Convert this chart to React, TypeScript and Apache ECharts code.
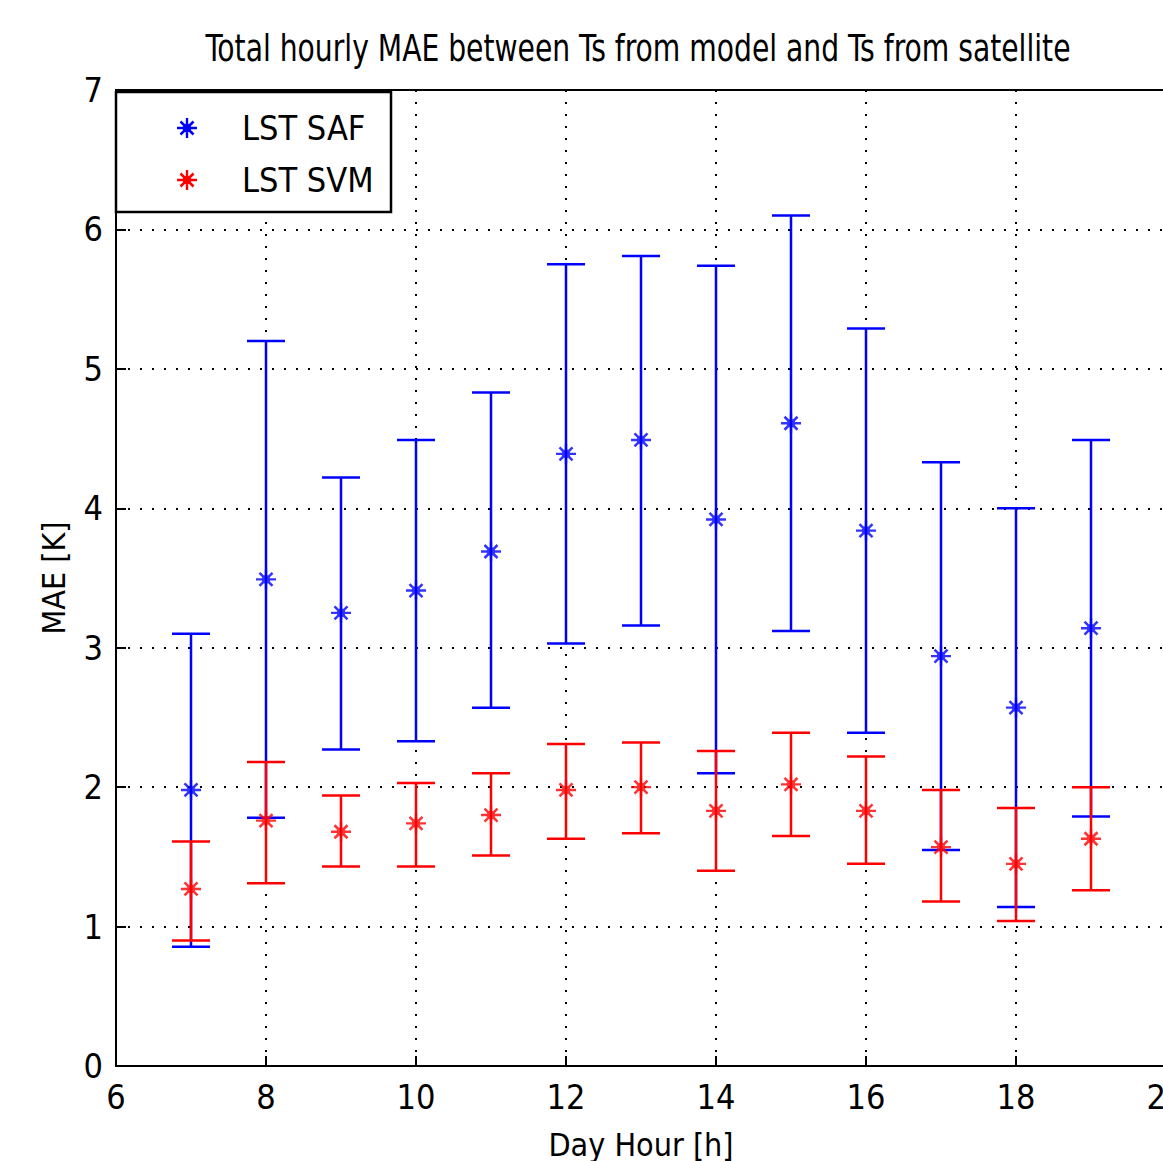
import React, { useEffect, useRef } from "react";
import * as echarts from "echarts";

const hours = [7, 8, 9, 10, 11, 12, 13, 14, 15, 16, 17, 18, 19];
const safMean = [1.98, 3.49, 3.25, 3.41, 3.69, 4.39, 4.49, 3.92, 4.61, 3.84, 2.94, 2.57, 3.14];
const safUpper = [3.1, 5.2, 4.22, 4.49, 4.83, 5.75, 5.81, 5.74, 6.1, 5.29, 4.33, 4.0, 4.49];
const safLower = [0.855, 1.78, 2.27, 2.33, 2.57, 3.03, 3.16, 2.1, 3.12, 2.39, 1.55, 1.14, 1.79];
const svmMean = [1.27, 1.76, 1.68, 1.74, 1.8, 1.98, 2.0, 1.83, 2.02, 1.83, 1.57, 1.45, 1.63];
const svmUpper = [1.61, 2.18, 1.94, 2.03, 2.1, 2.31, 2.32, 2.26, 2.39, 2.22, 1.98, 1.85, 2.0];
const svmLower = [0.9, 1.31, 1.43, 1.43, 1.51, 1.63, 1.67, 1.4, 1.65, 1.45, 1.18, 1.04, 1.26];

const xTicks = [6, 8, 10, 12, 14, 16, 18, 20];
const yTicks = [0, 1, 2, 3, 4, 5, 6, 7];
const TITLE = "Total hourly MAE between Ts from model and Ts from satellite";

const FONT = '"DejaVu Sans Condensed", "Liberation Sans", sans-serif';
const STAR =
  "path://M-1.2,-10 H1.2 V10 H-1.2 Z M-10,-1.2 H10 V1.2 H-10 Z M-7.4,-5.6 L-5.6,-7.4 L7.4,5.6 L5.6,7.4 Z M5.6,-7.4 L7.4,-5.6 L-5.6,7.4 L-7.4,5.6 Z M-4.3,0 A4.3,4.3 0 1 1 4.3,0 A4.3,4.3 0 1 1 -4.3,0 Z";

function errorSeries(name: string, color: string, lower: number[], upper: number[]) {
  return {
    name,
    type: "custom",
    z: 2,
    itemStyle: { color },
    data: hours.map((h, i) => [h, lower[i], upper[i]]),
    renderItem: (params: any, api: any) => {
      const x = api.value(0);
      const lo = api.coord([x, api.value(1)]);
      const hi = api.coord([x, api.value(2)]);
      const hw = 19;
      const style = { stroke: color, lineWidth: 2.5 };
      return {
        type: "group",
        children: [
          { type: "line", shape: { x1: lo[0], y1: lo[1], x2: hi[0], y2: hi[1] }, style },
          { type: "line", shape: { x1: lo[0] - hw, y1: lo[1], x2: lo[0] + hw, y2: lo[1] }, style },
          { type: "line", shape: { x1: hi[0] - hw, y1: hi[1], x2: hi[0] + hw, y2: hi[1] }, style },
        ],
      };
    },
  };
}

function markerSeries(name: string, color: string, mean: number[]) {
  return {
    name,
    type: "scatter",
    z: 3,
    symbol: STAR,
    symbolSize: 20,
    itemStyle: { color },
    data: hours.map((h, i) => [h, mean[i]]),
  };
}

export default function App() {
  const ref = useRef<HTMLDivElement>(null);
  useEffect(() => {
    document.body.style.margin = "0";
    const chart = echarts.init(ref.current!, null, { renderer: "svg" });
    const gridLine = { show: true, lineStyle: { color: "#000", width: 2, type: [2, 10] } };
    chart.setOption({
      animation: false,
      backgroundColor: "#fff",
      grid: {
        left: 116,
        top: 90,
        right: -3,
        bottom: 95,
        outerBoundsMode: "none",
        containLabel: false,
        show: true,
        borderColor: "#000",
        borderWidth: 2,
        backgroundColor: "transparent",
      },
      legend: {
        orient: "vertical",
        left: 172,
        top: 106,
        itemWidth: 60,
        itemHeight: 20,
        itemGap: 18,
        icon: STAR,
        data: ["LST SAF", "LST SVM"],
        textStyle: { fontFamily: FONT, fontSize: 34, color: "#000", padding: [0, 0, 0, 20] },
        z: 10,
      },
      graphic: [
        {
          type: "text",
          x: 638,
          y: 48,
          scaleX: 0.825,
          z: 10,
          style: {
            text: TITLE,
            fontFamily: FONT,
            fontSize: 38,
            fill: "#000",
            textAlign: "center",
            textVerticalAlign: "middle",
          },
        },
        {
          type: "rect",
          z: 5,
          shape: { x: 116, y: 92, width: 275, height: 120 },
          style: { fill: "#fff", stroke: "#000", lineWidth: 2.5 },
        },
      ],
      xAxis: {
        type: "value",
        min: 6,
        max: 20,
        interval: 2,
        name: "Day Hour [h]",
        nameLocation: "middle",
        nameGap: 63,
        nameTextStyle: { fontFamily: FONT, fontSize: 32, color: "#000" },
        axisLine: { show: true, lineStyle: { color: "#000", width: 2 } },
        axisTick: { show: true, inside: true, length: 10, lineStyle: { color: "#000", width: 2 } },
        axisLabel: {
          fontFamily: FONT,
          fontSize: 34,
          color: "#000",
          margin: 14,
          formatter: (v: number) => (xTicks.includes(v) ? String(v) : ""),
        },
        splitLine: gridLine,
      },
      yAxis: {
        type: "value",
        min: 0,
        max: 7,
        interval: 1,
        name: "MAE [K]",
        nameLocation: "middle",
        nameGap: 46,
        nameTextStyle: { fontFamily: FONT, fontSize: 32, color: "#000" },
        axisLine: { show: true, lineStyle: { color: "#000", width: 2 } },
        axisTick: { show: true, inside: true, length: 10, lineStyle: { color: "#000", width: 2 } },
        axisLabel: {
          fontFamily: FONT,
          fontSize: 34,
          color: "#000",
          margin: 13,
          formatter: (v: number) => (yTicks.includes(v) ? String(v) : ""),
        },
        splitLine: gridLine,
      },
      series: [
        errorSeries("LST SAF", "#0000ff", safLower, safUpper),
        markerSeries("LST SAF", "#0000ff", safMean),
        errorSeries("LST SVM", "#ff0000", svmLower, svmUpper),
        markerSeries("LST SVM", "#ff0000", svmMean),
      ],
    });
    return () => chart.dispose();
  }, []);
  return <div ref={ref} style={{ width: 1163, height: 1161 }} />;
}
